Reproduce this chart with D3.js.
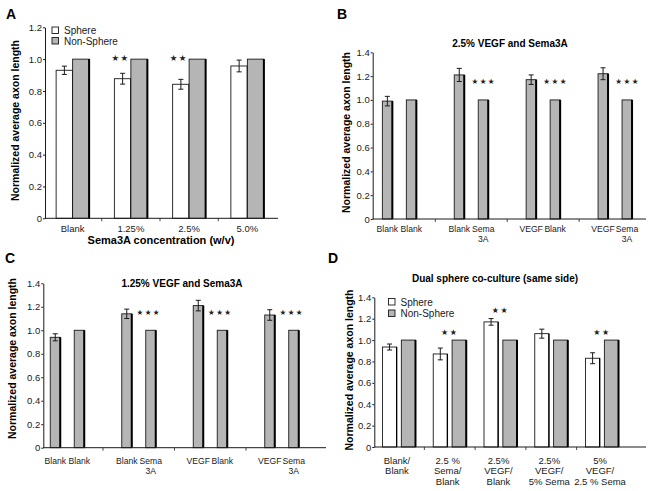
<!DOCTYPE html>
<html>
<head>
<meta charset="utf-8">
<script src="https://cdn.jsdelivr.net/npm/d3@7"></script>
<style>
  html, body { margin: 0; padding: 0; background: #fff; }
  svg { display: block; font-family: "Liberation Sans", Arial, Helvetica, sans-serif; }
</style>
</head>
<body>
<svg id="chart" width="649" height="491"></svg>
<script>
// ---------- Panel A ----------
const A_categories = ["Blank", "1.25%", "2.5%", "5.0%"];
const A_sphere = [0.93, 0.877, 0.842, 0.957];
const A_sphereErr = [0.026, 0.034, 0.031, 0.037];
const A_nonSphere = [1.0, 1.0, 1.0, 1.0];
const A_sig = ["", "★★", "★★", ""];
const A_yTicks = [0, 0.2, 0.4, 0.6, 0.8, 1.0, 1.2];

// ---------- Panel B ----------
const B_leftLabels = [["Blank"], ["Blank"], ["VEGF"], ["VEGF"]];
const B_rightLabels = [["Blank"], ["Sema", "3A"], ["Blank"], ["Sema", "3A"]];
const B_left = [0.99, 1.21, 1.17, 1.22];
const B_leftErr = [0.04, 0.055, 0.04, 0.05];
const B_right = [1.0, 1.0, 1.0, 1.0];
const B_sig = ["", "★★★", "★★★", "★★★"];

// ---------- Panel C ----------
const C_leftLabels = [["Blank"], ["Blank"], ["VEGF"], ["VEGF"]];
const C_rightLabels = [["Blank"], ["Sema", "3A"], ["Blank"], ["Sema", "3A"]];
const C_left = [0.94, 1.14, 1.21, 1.13];
const C_leftErr = [0.03, 0.04, 0.045, 0.045];
const C_right = [1.0, 1.0, 1.0, 1.0];
const C_sig = ["", "★★★", "★★★", "★★★"];

const BC_yTicks = [0, 0.2, 0.4, 0.6, 0.8, 1.0, 1.2, 1.4];

// ---------- Panel D ----------
const D_categories = [["Blank/", "Blank"], ["2.5 %", "Sema/", "Blank"], ["2.5%", "VEGF/", "Blank"], ["2.5%", "VEGF/", "5% Sema"], ["5%", "VEGF/", "2.5 % Sema"]];
const D_sphere = [0.935, 0.87, 1.17, 1.06, 0.83];
const D_sphereErr = [0.028, 0.055, 0.031, 0.042, 0.051];
const D_nonSphere = [1.0, 1.0, 1.0, 1.0, 1.0];
const D_sig = ["", "★★", "★★", "", "★★"];
const D_yTicks = [0, 0.2, 0.4, 0.6, 0.8, 1.0, 1.2, 1.4];

const legendItems = ["Sphere", "Non-Sphere"];

// ---------- styles ----------
const GRAY = "#b5b5b5";
const INK = "#1a1a1a";
const tickFmt = d => d === 0 ? "0" : d3.format(".1f")(d);

const svg = d3.select("#chart");

function yAxis(g, y, x0, ticks) {
  const ax = g.append("g").attr("transform", `translate(${x0},0)`)
    .call(d3.axisLeft(y).tickValues(ticks).tickFormat(tickFmt).tickSize(2).tickPadding(1).tickSizeOuter(0));
  ax.select(".domain").attr("stroke", INK);
  ax.selectAll(".tick line").attr("stroke", INK);
  ax.selectAll("text").attr("font-size", "9.5px").attr("fill", INK);
  return ax;
}

function xAxisLine(g, y0, x0, x1, boundaries) {
  g.append("line").attr("x1", x0).attr("x2", x1).attr("y1", y0).attr("y2", y0)
    .attr("stroke", INK).attr("stroke-width", 1);
  g.selectAll(null).data(boundaries).join("line")
    .attr("x1", d => d).attr("x2", d => d).attr("y1", y0).attr("y2", y0 + 3)
    .attr("stroke", INK).attr("stroke-width", 0.8);
}

function bar(g, x, w, y, v, fill) {
  const y0 = y(0), y1 = y(v);
  g.append("rect").attr("x", x).attr("y", y1).attr("width", w).attr("height", y0 - y1)
    .attr("fill", fill).attr("stroke", INK).attr("stroke-width", 0.9);
  g.append("line").attr("x1", x + w).attr("x2", x + w).attr("y1", y1).attr("y2", y0)
    .attr("stroke", "#000").attr("stroke-width", fill !== "#fff" ? 2 : 1.3);
}

function errBar(g, cx, y, v, e) {
  const top = y(v + e), bot = y(v - e);
  g.append("line").attr("x1", cx).attr("x2", cx).attr("y1", top).attr("y2", bot).attr("stroke", INK).attr("stroke-width", 1);
  [top, bot].forEach(yy => g.append("line").attr("x1", cx - 2.5).attr("x2", cx + 2.5).attr("y1", yy).attr("y2", yy).attr("stroke", INK).attr("stroke-width", 1));
}

function stars(g, cx, cy, s, fs) {
  if (!s) return;
  g.append("text").attr("x", cx).attr("y", cy + fs * 0.36).attr("text-anchor", "middle")
    .attr("font-family", "'DejaVu Sans', sans-serif")
    .attr("font-size", fs + "px").attr("letter-spacing", "1.5px").attr("fill", "#222").text(s);
}

function panelLetter(x, y, t) {
  svg.append("text").attr("x", x).attr("y", y).attr("font-size", "14px").attr("font-weight", "bold").attr("fill", "#000").text(t);
}

function yTitle(cx, cy) {
  svg.append("text").attr("transform", `translate(${cx},${cy}) rotate(-90)`).attr("text-anchor", "middle")
    .attr("dy", "0.35em").attr("font-size", "10.5px").attr("font-weight", "bold").attr("fill", "#000")
    .text("Normalized average axon length");
}

function multiLabel(g, cx, yBase, lines, lh, fs) {
  const t = g.append("text").attr("text-anchor", "middle").attr("font-size", (fs || 9.5) + "px").attr("fill", INK);
  lines.forEach((l, i) => t.append("tspan").attr("x", cx).attr("y", yBase + i * lh).text(l));
}

function legend(g, x, y, dy) {
  legendItems.forEach((name, i) => {
    g.append("rect").attr("x", x).attr("y", y + i * dy).attr("width", 6.5).attr("height", 6.5)
      .attr("fill", i === 0 ? "#fff" : GRAY).attr("stroke", INK).attr("stroke-width", 0.9);
    g.append("text").attr("x", x + 12).attr("y", y + i * dy + 7).attr("font-size", "10px").attr("fill", INK).text(name);
  });
}

// =============== Panel A ===============
(function () {
  const g = svg.append("g");
  const y = d3.scaleLinear().domain([0, 1.2]).range([218.3, 27.3]);
  const x = d3.scaleBand().domain(A_categories).range([43.5, 276.5]);
  const sub = d3.scaleBand().domain(["s", "n"]).range([-16.5, 16.5]);
  const bounds = A_categories.slice(1).map(c => x(c));
  A_categories.forEach((c, i) => {
    const cx = x(c) + x.bandwidth() / 2;
    bar(g, cx + sub("s"), sub.bandwidth(), y, A_sphere[i], "#fff");
    bar(g, cx + sub("n"), sub.bandwidth(), y, A_nonSphere[i], GRAY);
    errBar(g, cx + sub("s") + sub.bandwidth() / 2, y, A_sphere[i], A_sphereErr[i]);
    stars(g, cx + sub("s") + sub.bandwidth() / 2 - 2, y(1.01), A_sig[i], 8.5);
    multiLabel(g, cx, 232, [c], 10);
  });
  xAxisLine(g, y(0), 45, 278, bounds);
  yAxis(g, y, 45, A_yTicks);
  legend(g, 52, 27, 10.5);
  g.append("text").attr("x", 161).attr("y", 244).attr("text-anchor", "middle").attr("font-size", "11px")
    .attr("font-weight", "bold").attr("fill", "#000").text("Sema3A concentration (w/v)");
  panelLetter(6, 19, "A");
  yTitle(15, 120.5);
})();

// =============== Panels B & C ===============
function pairPanel(opts) {
  const g = svg.append("g");
  const y = d3.scaleLinear().domain([0, 1.4]).range(opts.yRange);
  const idx = d3.range(opts.left.length);
  const x = d3.scaleBand().domain(idx).range(opts.xRange);
  const sub = d3.scaleBand().domain(["l", "r"]).range([-17, 17]).paddingInner(0.583);
  idx.forEach(i => {
    const cx = x(i) + x.bandwidth() / 2;
    const lx = cx + sub("l"), rx = cx + sub("r"), w = sub.bandwidth();
    bar(g, lx, w, y, opts.left[i], GRAY);
    bar(g, rx, w, y, opts.right[i], GRAY);
    errBar(g, lx + w / 2, y, opts.left[i], opts.leftErr[i]);
    stars(g, rx + w / 2 + opts.starDx, y(1.155), opts.sig[i], 7.5);
    multiLabel(g, lx + w / 2, opts.labelY, opts.leftLabels[i], 9.5, 8.6);
    multiLabel(g, rx + w / 2, opts.labelY, opts.rightLabels[i], 9.5, 8.6);
  });
  const bounds = idx.slice(1).map(i => x(i));
  xAxisLine(g, y(0), opts.axisX[0], opts.axisX[1], bounds);
  yAxis(g, y, opts.axisX[0], BC_yTicks);
  g.append("text").attr("x", opts.titlePos[0]).attr("y", opts.titlePos[1]).attr("text-anchor", "middle")
    .attr("font-size", "10px").attr("font-weight", "bold").attr("fill", "#000").text(opts.title);
}

pairPanel({
  left: B_left, leftErr: B_leftErr, right: B_right, sig: B_sig,
  leftLabels: B_leftLabels, rightLabels: B_rightLabels,
  yRange: [219, 52.3], xRange: [363.4, 651], axisX: [372.7, 646],
  labelY: 232, title: "2.5% VEGF and Sema3A", titlePos: [510, 46.5], starDx: 0.5
});
panelLetter(337, 18.5, "B");
yTitle(346, 132.5);

pairPanel({
  left: C_left, leftErr: C_leftErr, right: C_right, sig: C_sig,
  leftLabels: C_leftLabels, rightLabels: C_rightLabels,
  yRange: [447.7, 283.3], xRange: [31.5, 317.5], axisX: [43.3, 326],
  labelY: 464, title: "1.25% VEGF and Sema3A", titlePos: [182, 286.5], starDx: -2
});
panelLetter(5, 263, "C");
yTitle(12.5, 358.5);

// =============== Panel D ===============
(function () {
  const g = svg.append("g");
  const y = d3.scaleLinear().domain([0, 1.4]).range([447, 297.3]);
  const idx = d3.range(D_categories.length);
  const x = d3.scaleBand().domain(idx).range([373.6, 627.4]);
  const sub = d3.scaleBand().domain(["s", "n"]).range([-16.5, 16.5]).paddingInner(0.25);
  idx.forEach(i => {
    const cx = x(i) + x.bandwidth() / 2;
    const w = sub.bandwidth();
    bar(g, cx + sub("s"), w, y, D_sphere[i], "#fff");
    bar(g, cx + sub("n"), w, y, D_nonSphere[i], GRAY);
    errBar(g, cx + sub("s") + w / 2, y, D_sphere[i], D_sphereErr[i]);
    stars(g, cx, y(Math.max(D_sphere[i] + D_sphereErr[i], D_nonSphere[i]) + 0.075), D_sig[i], 8);
    multiLabel(g, cx - 2, 463.5, D_categories[i], 10.8);
  });
  const bounds = idx.slice(1).map(i => x(i));
  xAxisLine(g, y(0), 374.3, 646, bounds);
  yAxis(g, y, 374.3, D_yTicks);
  legend(g, 388.5, 298.5, 11.5);
  g.append("text").attr("x", 495).attr("y", 282).attr("text-anchor", "middle").attr("font-size", "10px")
    .attr("font-weight", "bold").attr("fill", "#000").text("Dual sphere co-culture (same side)");
  panelLetter(328, 263, "D");
  yTitle(349, 370);
})();
</script>
</body>
</html>
